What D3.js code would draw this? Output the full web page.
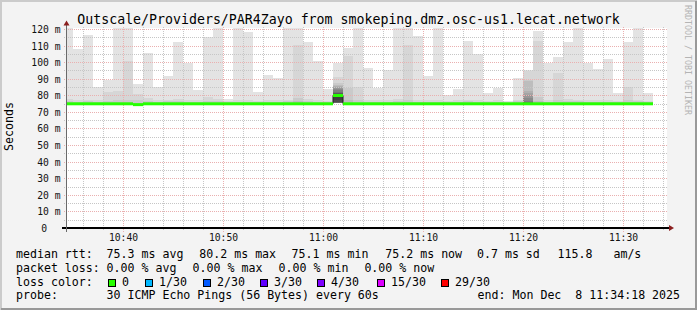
<!DOCTYPE html>
<html><head><meta charset="utf-8">
<script src="https://cdn.jsdelivr.net/npm/d3@7"></script>
<style>
body{margin:0;background:#f3f3f3}
svg{display:block}
text{font-family:"DejaVu Sans Mono",monospace;white-space:pre}
</style>
</head><body>
<svg id="c" width="697" height="310"></svg>
<script>
// ---------------- data ----------------
const titleText = "Outscale/Providers/PAR4Zayo from smokeping.dmz.osc-us1.lecat.network";
const graphStart = "2025-12-08 10:34:18";
const graphEnd   = "2025-12-08 11:34:18";
const firstBarEnd = "2025-12-08 10:35:00";
const lastBarEnd  = "2025-12-08 11:33:00";

// median rtt per minute (ms)
const medianRtt = [
 75.2,75.2,75.2,75.2,75.2,75.2,75.2,74.7,75.2,75.2,
 75.2,75.2,75.2,75.2,75.2,75.2,75.2,75.2,75.2,75.2,
 75.2,75.2,75.2,75.2,75.2,75.2,75.2,80.2,75.2,75.2,
 75.2,75.2,75.2,75.2,75.2,75.2,75.2,75.2,75.2,75.2,
 75.2,75.2,75.2,75.2,75.2,75.2,75.2,75.2,75.2,75.2,
 75.2,75.2,75.2,75.2,75.2,75.2,75.2,75.2,75.2
];
// highest pings of each minute, descending (ms)
const smokeUpper = [
 [125,77.8,76.6],[108.1,77.4,76.5],[116.6,77.6,76.6],[85.2,77.2,76.4],[89.6,82.6,77.0],
 [125,83.0,77.2],[125,100.9,77.6],[87.0,81.0,77.2],[105.6,78.8,77.0],[85.3,77.4,76.5],
 [91.9,77.5,76.6],[112.4,78.3,76.8],[99.9,77.5,76.5],[83.6,77.2,76.4],[115.5,79.2,77.0],
 [125,77.8,76.6],[78.0,76.8,76.3],[125,77.5,76.5],[118.2,77.5,76.5],[82.4,77.0,76.4],
 [92.5,77.3,76.5],[90.5,77.6,76.5],[125,77.6,76.6],[125,110.5,78.5,76.8],[112.4,77.8,76.6],
 [100.9,77.4,76.5],[84.2,77.0,76.4],
 [99.9,91.4,87.5,86.8,86.1,85.4,84.7,84.0,83.3,82.6,82.0,81.5,81.1,80.7,80.4],
 [108.7,104.0,85.0,77.5],[125,85.4,77.5],
 [96.7,77.4,76.5],[85.0,77.2,76.4],[95.3,77.5,76.5],[125,77.8,76.6],[125,110.5,77.6],
 [116.0,77.5,76.5],[91.9,77.2,76.4],[125,77.6,76.5],[80.4,77.0,76.3],[84.4,77.4,76.5],
 [113.0,77.6,76.6],[105.3,77.5,76.5],[81.8,77.0,76.4],[84.8,77.3,76.5],[76.6,76.3],
 [90.5,77.6,76.6],
 [95.5,95.0,89.5,89.0,82.8,82.0,80.5,78.5,77.0,76.0,75.6],
 [119.0,113.0,79.2,77.0],[99.9,77.5,76.5],[103.5,93.9,77.5],
 [112.3,77.8,76.6],[125,77.6,76.6],[99.9,77.4,76.5],[96.0,77.3,76.5],[102.1,77.5,76.5],
 [81.8,77.0,76.4],[112.3,85.2,77.5],[125,77.6,76.6],[81.6,77.0,76.4]
];
// lowest pings of each minute, ascending (ms)
const smokeLower = [
 [74.7],[74.7],[74.7],[74.7],[74.7],[74.7],[74.7],[74.5],[74.7],[74.7],
 [74.7],[74.7],[74.7],[74.7],[74.7],[74.7],[74.7],[74.7],[74.7],[74.7],
 [74.7],[74.7],[74.7],[74.7],[74.7],[74.7],[74.7],
 [75.4,75.4,75.4,75.5,75.5,75.5,75.5,75.6,75.6,75.7,75.8,76.0,76.5,77.5,79.0],
 [74.7],[74.7],
 [74.7],[74.7],[74.7],[74.7],[74.7],[74.7],[74.7],[74.7],[74.7],[74.7],
 [74.7],[74.7],[74.7],[74.7],[74.7],[74.7],[74.7],[74.7],[74.7],[74.7],
 [74.7],[74.7],[74.7],[74.7],[74.7],[74.7],[74.7],[74.7],[74.7]
];

const yTicks = [0,10,20,30,40,50,60,70,80,90,100,110,120];
const yTickLabels = ["0","10 m","20 m","30 m","40 m","50 m","60 m","70 m","80 m","90 m","100 m","110 m","120 m"];
const yMinor = [5,15,25,35,45,55,65,75,85,95,105,115];
const xTickLabels = ["10:40","10:50","11:00","11:10","11:20","11:30"];

const medianStats = ["75.3 ms avg","80.2 ms max","75.1 ms min","75.2 ms now","0.7 ms sd","115.8   am/s"];
const lossStats = ["0.00 % avg","0.00 % max","0.00 % min","0.00 % now"];
const lossLabels = ["0","1/30","2/30","3/30","4/30","15/30","29/30"];
const lossColors = ["#26ff00","#00b8ff","#0059ff","#5e00ff","#7e00ff","#dd00ff","#ff0000"];
const probeText = "30 ICMP Echo Pings (56 Bytes) every 60s";
const endText = "end: Mon Dec  8 11:34:18 2025";
const pings = 30;

// ---------------- layout ----------------
const parse = d3.timeParse("%Y-%m-%d %H:%M:%S");
const t0 = parse(graphStart), t1 = parse(graphEnd);
const barEnds = d3.timeMinute.range(parse(firstBarEnd), new Date(+parse(lastBarEnd) + 1000));

const x = d3.scaleTime().domain([t0, t1]).range([66, 666]);
const y = d3.scaleLinear().domain([0, 120.6]).range([228.5, 28.5]);
const py = v => Math.round(y(v) - 0.5) + 0.5;

const svg = d3.select("#c");

// background + 3D border
svg.append("rect").attr("width",697).attr("height",310).attr("fill","#f3f3f3");
svg.append("path").attr("d","M0,309 V0 H696").attr("fill","none").attr("stroke","#cbcbcb").attr("stroke-width",2).attr("transform","translate(1,1)");
svg.append("path").attr("d","M1,309 H696 V1").attr("fill","none").attr("stroke","#999999").attr("stroke-width",2);

// canvas
svg.append("rect").attr("x",66).attr("y",28).attr("width",601).attr("height",201).attr("fill","#ffffff");

svg.append("clipPath").attr("id","plot").append("rect")
  .attr("x",67).attr("y",28).attr("width",600).attr("height",201);

// smoke
const half = pings/2;
const bandColor = i => { const c = Math.floor(190/half*(half-(i+1)))+50; return d3.rgb(c,c,c).formatHex(); };
const smoke = svg.append("g").attr("clip-path","url(#plot)").attr("shape-rendering","crispEdges");
for (let i = 0; i < half; i++) {
  const rows = [];
  barEnds.forEach((t,k) => {
    const top = smokeUpper[k][i];
    if (top === undefined) return;
    const bot = smokeLower[k][i] !== undefined ? smokeLower[k][i] : medianRtt[k];
    rows.push({t, top, bot});
  });
  smoke.selectAll(null).data(rows).enter().append("rect")
    .attr("x", d => x(d3.timeMinute.offset(d.t,-1)))
    .attr("width", d => x(d.t) - x(d3.timeMinute.offset(d.t,-1)))
    .attr("y", d => y(d.top))
    .attr("height", d => Math.max(0, y(d.bot) - y(d.top)))
    .attr("fill", bandColor(i));
}

// grid
const grid = svg.append("g").attr("shape-rendering","crispEdges");
const minorCol = "#c6c6c6", majorCol = "#eab0b0";
yMinor.forEach(v => grid.append("line").attr("x1",64).attr("x2",668).attr("y1",py(v)).attr("y2",py(v))
  .attr("stroke",minorCol).attr("stroke-dasharray","1,1"));
const vTimes = d3.timeMinute.every(2).range(t0, t1);
vTimes.filter(t => t.getMinutes() % 10 !== 0).forEach(t => {
  const xx = Math.round(x(t)) + 0.5;
  grid.append("line").attr("x1",xx).attr("x2",xx).attr("y1",26.5).attr("y2",230.5)
    .attr("stroke",minorCol).attr("stroke-dasharray","1,1");
});
yTicks.filter(v => v > 0).forEach(v => grid.append("line").attr("x1",64).attr("x2",668).attr("y1",py(v)).attr("y2",py(v))
  .attr("stroke",majorCol).attr("stroke-dasharray","1,1"));
const majorTimes = d3.timeMinute.every(10).range(t0, t1);
majorTimes.forEach(t => {
  const xx = Math.round(x(t)) + 0.5;
  grid.append("line").attr("x1",xx).attr("x2",xx).attr("y1",26.5).attr("y2",231.5)
    .attr("stroke",majorCol).attr("stroke-dasharray","1,1");
});

// median: dark step line then loss-coloured line
const plotG = svg.append("g").attr("clip-path","url(#plot)");
const stepPts = [];
barEnds.forEach((t,k) => { stepPts.push([x(d3.timeMinute.offset(t,-1)), y(medianRtt[k])]); stepPts.push([x(t), y(medianRtt[k])]); });
plotG.append("path").attr("d", d3.line()(stepPts)).attr("fill","none").attr("stroke","#202020").attr("stroke-width",1);
plotG.selectAll(null).data(barEnds).enter().append("line")
  .attr("x1", t => x(d3.timeMinute.offset(t,-1))).attr("x2", t => x(t))
  .attr("y1", (t,k) => y(medianRtt[k])).attr("y2", (t,k) => y(medianRtt[k]))
  .attr("stroke", lossColors[0]).attr("stroke-width",3);

// axes
const axCol = "#000";
svg.append("line").attr("x1",62).attr("x2",670).attr("y1",228).attr("y2",228).attr("stroke",axCol).attr("stroke-width",2);
svg.append("line").attr("x1",66.5).attr("x2",66.5).attr("y1",232).attr("y2",24.5).attr("stroke","#6a6a6a").attr("stroke-width",1);
svg.append("path").attr("d","M669,225 L674,228 L669,231 Z").attr("fill","#8b1f1f");
svg.append("path").attr("d","M63.5,25.5 L69.5,25.5 L66.5,20.5 Z").attr("fill","#8b1f1f");

// y tick labels
svg.selectAll(null).data(yTicks).enter().append("text")
  .attr("x", (v,i) => i === 0 ? 47 : 60.5).attr("y", v => py(v) + 3.3)
  .attr("text-anchor","end").attr("font-size","9.7px").attr("fill","#111")
  .text((v,i) => yTickLabels[i]);

// x tick labels
const fmt = d3.timeFormat("%H:%M");
svg.selectAll(null).data(majorTimes.filter(t => xTickLabels.includes(fmt(t)))).enter().append("text")
  .attr("x", t => Math.round(x(t)) + 0.5).attr("y", 241)
  .attr("text-anchor","middle").attr("font-size","9.7px").attr("fill","#111")
  .text(t => fmt(t));

// title
svg.append("text").attr("x",348.5).attr("y",24).attr("text-anchor","middle")
  .attr("font-size","13.25px").attr("fill","#000").text(titleText);

// y label
svg.append("text").attr("transform","translate(13,126.5) rotate(-90)").attr("text-anchor","middle")
  .attr("font-size","11.6px").attr("fill","#000").text("Seconds");

// watermark
svg.append("text").attr("transform","translate(684.5,5) rotate(90)")
  .attr("font-size","8.3px").attr("fill","#b4b4b4").text("RRDTOOL / TOBI OETIKER");

// legend
const lg = svg.append("g").attr("font-size","11.6px").attr("fill","#000");
const addT = (s, xx, yy) => lg.append("text").attr("x",xx).attr("y",yy).text(s);
const row1X = [106.6,199.3,291.6,385.3,477,557.6];
addT("median rtt:",16,258.3);
medianStats.forEach((s,i) => addT(s,row1X[i],258.3));
const row2X = [106.6,192.6,278.6,364.4];
addT("packet loss:",16,271.7);
lossStats.forEach((s,i) => addT(s,row2X[i],271.7));
addT("loss color:",16,285.7);
const boxX = [108,145,203,260,317,377,441];
lossLabels.forEach((s,i) => {
  lg.append("rect").attr("x",boxX[i]+0.5).attr("y",279.5).attr("width",7).attr("height",7)
    .attr("fill",lossColors[i]).attr("stroke","#000").attr("stroke-width",1).attr("shape-rendering","crispEdges");
  addT(s,boxX[i]+14,285.7);
});
addT("probe:",16,299.3);
addT(probeText,106.6,299.3);
addT(endText,477.6,299.3);
</script>
</body></html>
